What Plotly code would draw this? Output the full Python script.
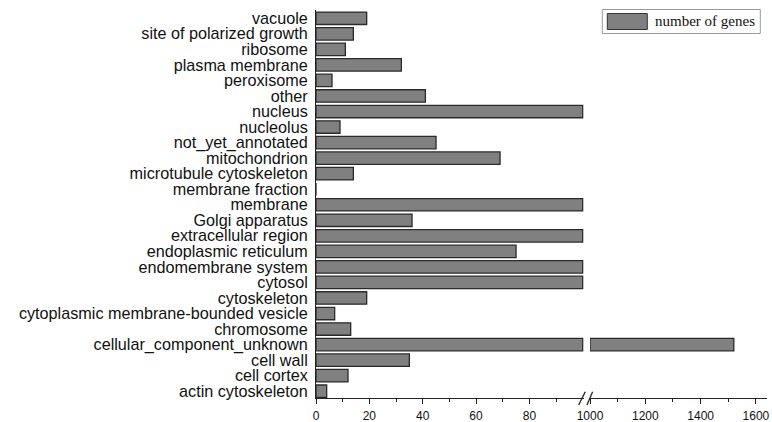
import plotly.graph_objects as go

# ---- data (top to bottom as displayed) ----
categories = [
    "vacuole", "site of polarized growth", "ribosome", "plasma membrane",
    "peroxisome", "other", "nucleus", "nucleolus", "not_yet_annotated",
    "mitochondrion", "microtubule cytoskeleton", "membrane fraction",
    "membrane", "Golgi apparatus", "extracellular region",
    "endoplasmic reticulum", "endomembrane system", "cytosol",
    "cytoskeleton", "cytoplasmic membrane-bounded vesicle", "chromosome",
    "cellular_component_unknown", "cell wall", "cell cortex",
    "actin cytoskeleton",
]
gene_counts = [19, 14, 11, 32, 6, 41, 450, 9, 45, 69, 14, 0, 300, 36, 130,
               75, 260, 380, 19, 7, 13, 1520, 35, 12, 4]
series_name = "number of genes"
left_ticks = [0, 20, 40, 60, 80]
left_minor = [10, 30, 50, 70, 90]
right_ticks = [1000, 1200, 1400, 1600]
right_minor = [1100, 1300, 1500]
BREAK_LOW = 100
BREAK_HIGH = 1000

# ---- layout geometry (pixels) ----
W, H = 772, 422
PL, PR, PT, PB = 315.7, 766.7, 9.5, 398.0
pw, ph = PR - PL, PB - PT


def px(x):
    return (x - PL) / pw


def py(y):
    return (PB - y) / ph


left_x = [min(v, BREAK_LOW) for v in gene_counts]
right_x = [v - BREAK_HIGH if v > BREAK_HIGH else None for v in gene_counts]

bar_style = dict(color="#808080", line=dict(color="#2a2a2a", width=1.3))

fig = go.Figure()
fig.add_trace(go.Bar(y=categories, x=left_x, orientation="h", marker=bar_style,
                     width=0.8, xaxis="x", yaxis="y", name=series_name,
                     showlegend=False, hoverinfo="skip"))
fig.add_trace(go.Bar(y=categories, x=right_x, base=BREAK_HIGH, orientation="h",
                     marker=bar_style, width=0.8, xaxis="x2", yaxis="y",
                     name=series_name, showlegend=False, hoverinfo="skip"))

tickfont = dict(family="Arial, Liberation Sans, sans-serif", size=12, color="#111111")
axis_common = dict(showline=True, linecolor="#222222", linewidth=1, ticks="outside",
                   ticklen=5, tickcolor="#222222", tickwidth=1, showgrid=False,
                   zeroline=False, tickfont=tickfont, ticklabelstandoff=2)

n = len(categories)
fig.update_layout(
    width=W, height=H,
    margin=dict(l=PL, r=W - PR, t=PT, b=H - PB, autoexpand=False),
    paper_bgcolor="white", plot_bgcolor="white",
    barmode="overlay",
    xaxis=dict(domain=[0, px(583.5)], range=[0, 100.4], tickvals=left_ticks,
               minor=dict(tickvals=left_minor, ticks="outside", ticklen=3,
                          tickcolor="#222222"),
               anchor="y", **axis_common),
    xaxis2=dict(domain=[px(589.7), 1], range=[1000, 1640], tickvals=right_ticks,
                minor=dict(tickvals=right_minor, ticks="outside", ticklen=3,
                           tickcolor="#222222"),
                anchor="y", **axis_common),
    yaxis=dict(domain=[0, 1], range=[n - 1 + 0.437, -0.533], type="category",
               tickmode="array", tickvals=categories, ticktext=categories,
               showline=True, linecolor="#222222", linewidth=1, ticks="",
               showgrid=False, zeroline=False, ticklabelstandoff=4,
               tickfont=dict(family="Arial, Liberation Sans, sans-serif",
                             size=16.2, color="#111111")),
    showlegend=False,
)

# break marks "//"
for (x0, x1) in [(578.3, 585.0), (586.7, 592.3)]:
    fig.add_shape(type="line", xref="paper", yref="paper",
                  x0=px(x0), y0=py(405), x1=px(x1), y1=py(391.7),
                  line=dict(color="#222222", width=1.3))

# manual legend
fig.add_shape(type="rect", xref="paper", yref="paper",
              x0=px(602), y0=py(33), x1=px(760), y1=py(9),
              line=dict(color="#999999", width=1), fillcolor="white")
fig.add_shape(type="rect", xref="paper", yref="paper",
              x0=px(607), y0=py(29), x1=px(647), y1=py(13),
              line=dict(color="#333333", width=1), fillcolor="#808080")
fig.add_annotation(xref="paper", yref="paper", x=px(653), y=py(21),
                   text=series_name, showarrow=False, xanchor="left",
                   yanchor="middle",
                   font=dict(family="Liberation Serif, Times New Roman, serif",
                             size=15, color="#111111"))

fig.write_html("out.html", config={"displayModeBar": False},
               post_script="document.body.style.margin='0';")
